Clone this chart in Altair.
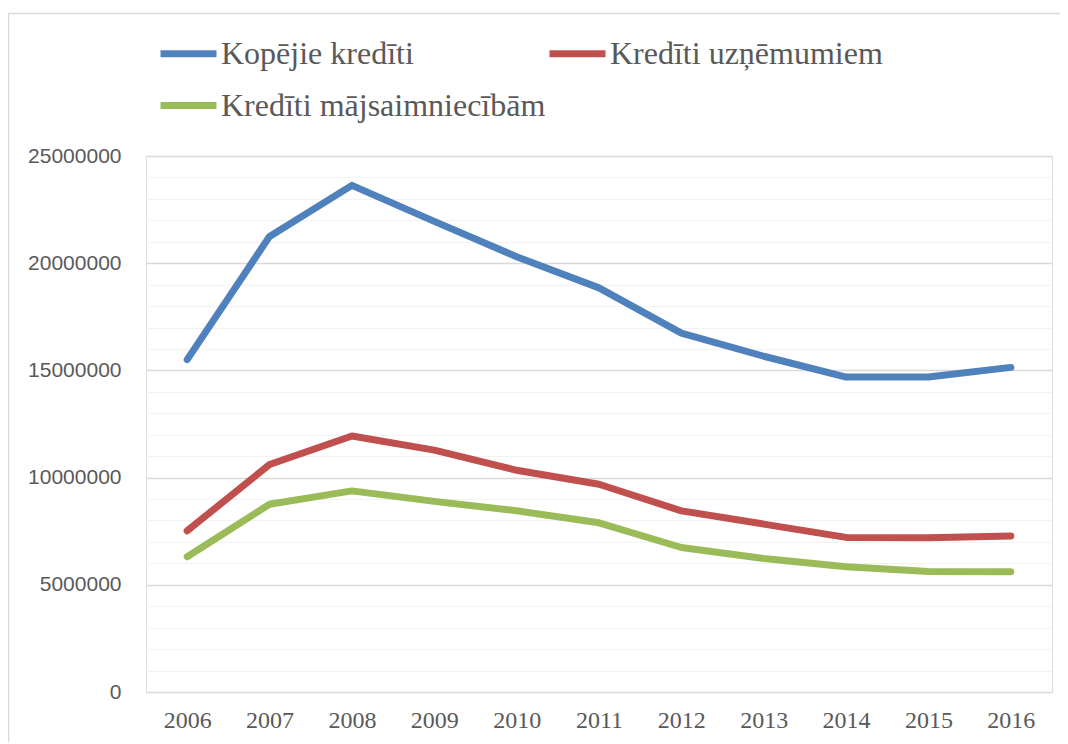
import altair as alt
import pandas as pd

years = ["2006", "2007", "2008", "2009", "2010", "2011", "2012", "2013", "2014", "2015", "2016"]
series_names = ["Kopējie kredīti", "Kredīti uzņēmumiem", "Kredīti mājsaimniecībām"]
legend_order = ["Kopējie kredīti", "Kredīti mājsaimniecībām", "Kredīti uzņēmumiem"]
kopejie = [15500000, 21250000, 23630000, 21950000, 20300000, 18850000, 16740000, 15660000, 14690000, 14690000, 15140000]
uznemumiem = [7520000, 10610000, 11940000, 11280000, 10340000, 9690000, 8450000, 7830000, 7210000, 7190000, 7280000]
majsaimniecibam = [6310000, 8760000, 9380000, 8890000, 8450000, 7890000, 6740000, 6230000, 5840000, 5620000, 5610000]
colors = ["#4f81bd", "#c0504d", "#9bbb59"]
y_ticks = [i * 1000000 for i in range(0, 26)]

rows = []
for name, vals in zip(series_names, [kopejie, uznemumiem, majsaimniecibam]):
    for yr, v in zip(years, vals):
        rows.append({"Gads": yr, "Vērtība": v, "Sērija": name})
df = pd.DataFrame(rows)

W, H = 906, 536

lines = alt.Chart(df).mark_line(strokeWidth=7, strokeCap="round", strokeJoin="round").encode(
    x=alt.X("Gads:O", sort=years, title=None,
            scale=alt.Scale(type="point", padding=0.5),
            axis=alt.Axis(labelAngle=0, labelFont="Liberation Serif", labelFontSize=24,
                          labelColor="#595959", ticks=False, domain=False, grid=False,
                          labelPadding=16)),
    y=alt.Y("Vērtība:Q", title=None,
            scale=alt.Scale(domain=[0, 25000000], nice=False),
            axis=alt.Axis(values=y_ticks, format="d",
                          labelExpr="datum.value % 5000000 === 0 ? datum.label : ''",
                          labelFont="Liberation Sans", labelFontSize=21, labelColor="#595959",
                          ticks=False, domain=False, labelPadding=25,
                          gridColor={"condition": {"test": "datum.value % 5000000 === 0", "value": "#d9d9d9"}, "value": "#f2f2f2"},
                          gridWidth={"condition": {"test": "datum.value % 5000000 === 0", "value": 1.5}, "value": 1.2})),
    color=alt.Color("Sērija:N",
                    scale=alt.Scale(domain=series_names, range=colors),
                    legend=alt.Legend(title=None, orient="none", legendX=11, legendY=-134,
                                      values=legend_order,
                                      columns=2, columnPadding=-12, rowPadding=4,
                                      symbolType="stroke", symbolStrokeWidth=7, symbolSize=3136,
                                      labelFont="Liberation Serif", labelFontSize=32,
                                      labelColor="#595959", labelOffset=1, labelLimit=600)),
)

one = pd.DataFrame({"a": [0]})
top_edge = alt.Chart(one).mark_rule(stroke="#d9d9d9", strokeWidth=1.5, clip=False).encode(
    x=alt.value(-137.5), x2=alt.value(W + 8), y=alt.value(-142.5),
)
left_edge = alt.Chart(one).mark_rule(stroke="#d9d9d9", strokeWidth=1.5, clip=False).encode(
    x=alt.value(-137.5), y=alt.value(-142.5), y2=alt.value(H + 50),
)

chart = alt.layer(top_edge, left_edge, lines).properties(
    width=W, height=H,
    autosize=alt.AutoSizeParams(type="none"),
    padding={"left": 138, "top": 148, "right": 8, "bottom": 50},
).configure_view(stroke=None).configure(background="white")

chart.save("out.html", embed_options={"renderer": "svg", "actions": False})
